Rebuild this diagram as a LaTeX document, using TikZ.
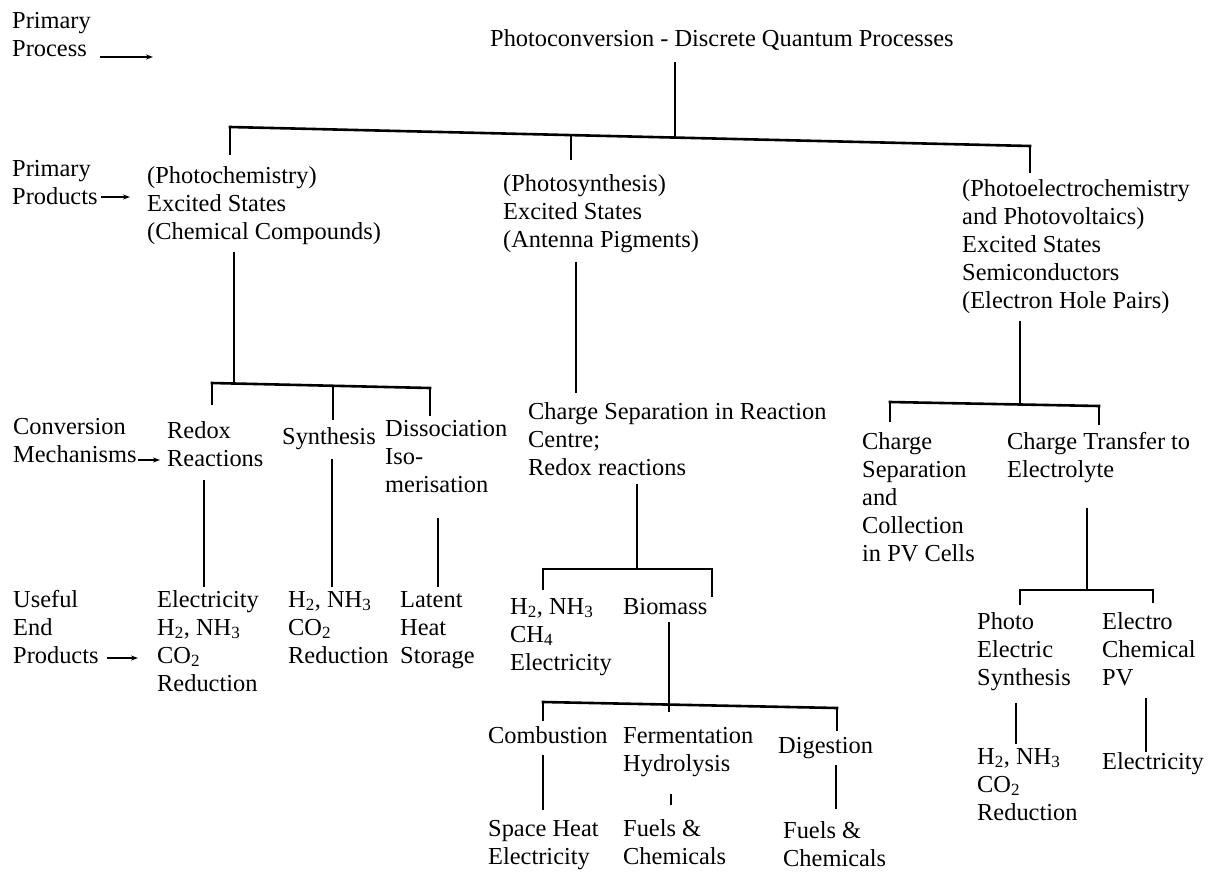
\documentclass[tikz,border=0pt]{standalone}
\usepackage{fontspec}
\setmainfont{Liberation Serif}
\usetikzlibrary{arrows.meta}
\newcommand{\mlines}[1]{\begin{tabular}[t]{@{}l@{}}#1\end{tabular}}
\newcommand{\sbs}[1]{\textsubscript{#1}}
\begin{document}
\begin{tikzpicture}[x=1pt,y=-1pt,
  txt/.style={anchor=base west, inner sep=0pt, font=\fontsize{24.4}{28}\selectfont},
  bar/.style={line width=2.6pt, line cap=rect},
  link/.style={line width=1.4pt},
  tag/.style={line width=1.8pt, -{Stealth[length=7pt,width=5pt]}}]
\useasboundingbox (0,0) rectangle (1212,876);

% ---------- row labels ----------
\node[txt] (lproc) at (12,28) {\mlines{Primary\\Process}};
\node[txt] (lprod) at (12,176) {\mlines{Primary\\Products}};
\node[txt] (lconv) at (13,434) {\mlines{Conversion\\Mechanisms}};
\node[txt] (lend)  at (13,607) {\mlines{Useful\\End\\Products}};
\coordinate (a1s) at (100,57);  \coordinate (a1e) at (153,57);
\coordinate (a2s) at (101,197); \coordinate (a2e) at (130,197);
\coordinate (a3s) at (138,460); \coordinate (a3e) at (160,460);
\coordinate (a4s) at (107,658); \coordinate (a4e) at (138,658);
\draw[tag] (a1s) -- (a1e);
\draw[tag] (a2s) -- (a2e);
\draw[tag] (a3s) -- (a3e);
\draw[tag] (a4s) -- (a4e);

% ---------- nodes ----------
\node[txt] (title) at (490,46) {Photoconversion - Discrete Quantum Processes};
\node[txt] (pchem) at (147,183) {\mlines{(Photochemistry)\\Excited States\\(Chemical Compounds)}};
\node[txt] (psyn)  at (503,191) {\mlines{(Photosynthesis)\\Excited States\\(Antenna Pigments)}};
\node[txt] (pelec) at (962,196) {\mlines{(Photoelectrochemistry\\and Photovoltaics)\\Excited States\\Semiconductors\\(Electron Hole Pairs)}};

\node[txt] (redox) at (167,438) {\mlines{Redox\\Reactions}};
\node[txt] (synth) at (282,444) {Synthesis};
\node[txt] (dissoc) at (385,436) {\mlines{Dissociation\\Iso-\\merisation}};
\node[txt] (csep) at (528,419) {\mlines{Charge Separation in Reaction\\Centre;\\Redox reactions}};
\node[txt] (pvc) at (862,449) {\mlines{Charge\\Separation\\and\\Collection\\in PV Cells}};
\node[txt] (ctr) at (1007,449) {\mlines{Charge Transfer to\\Electrolyte}};

\node[txt] (e1) at (157,607) {\mlines{Electricity\\H\sbs{2}, NH\sbs{3}\\CO\sbs{2}\\Reduction}};
\node[txt] (e2) at (288,607) {\mlines{H\sbs{2}, NH\sbs{3}\\CO\sbs{2}\\Reduction}};
\node[txt] (e3) at (400,607) {\mlines{Latent\\Heat\\Storage}};
\node[txt] (hch) at (510,614) {\mlines{H\sbs{2}, NH\sbs{3}\\CH\sbs{4}\\Electricity}};
\node[txt] (bio) at (623,614) {Biomass};

\node[txt] (comb) at (488,743) {Combustion};
\node[txt] (ferm) at (623,743) {\mlines{Fermentation\\Hydrolysis}};
\node[txt] (dig) at (778,753) {Digestion};
\node[txt] (shx) at (488,836) {\mlines{Space Heat\\Electricity}};
\node[txt] (fc1) at (623,836) {\mlines{Fuels \&\\Chemicals}};
\node[txt] (fc2) at (783,838) {\mlines{Fuels \&\\Chemicals}};

\node[txt] (photo) at (977,629) {\mlines{Photo\\Electric\\Synthesis}};
\node[txt] (echem) at (1102,629) {\mlines{Electro\\Chemical\\PV}};
\node[txt] (hr) at (977,764) {\mlines{H\sbs{2}, NH\sbs{3}\\CO\sbs{2}\\Reduction}};
\node[txt] (er) at (1102,769) {Electricity};

% ---------- junction points ----------
\coordinate (t1) at (230,127);  \coordinate (t2) at (1030,146);
\coordinate (tj) at (675,137.5); \coordinate (tm) at (571,135);
\coordinate (c1) at (212,383);  \coordinate (c2) at (430,388);
\coordinate (cj) at (234,383.5); \coordinate (cm) at (333,385.5);
\coordinate (s1) at (543,569);  \coordinate (s2) at (712,569);
\coordinate (sj) at (637,569);
\coordinate (b1) at (543,702);  \coordinate (b2) at (837,708);
\coordinate (bj) at (669,705);
\coordinate (r1) at (890,402);  \coordinate (r2) at (1099,406);
\coordinate (rj) at (1020,403.5);
\coordinate (q1) at (1020,590); \coordinate (q2) at (1153,590);
\coordinate (qj) at (1087,590);

% ---------- top level ----------
\draw[link, shorten <=12pt] (title.south -| tj) -- (tj);
\draw[bar] (t1) -- (t2);
\draw[link, shorten >=8pt] (t1) -- (t1 |- pchem.north);
\draw[link, shorten >=11pt] (tm) -- (tm |- psyn.north);
\draw[link, shorten >=3pt] (t2) -- (t2 |- pelec.north);

% ---------- photochemistry ----------
\draw[link, shorten <=4pt] (pchem.south -| cj) -- (cj);
\draw[bar] (c1) -- (c2);
\draw[link, shorten >=13pt] (c1) -- (c1 |- redox.north);
\draw[link, shorten >=7pt] (cm) -- (cm |- synth.north);
\draw[link] (c2) -- (c2 |- dissoc.north);
\draw[link, shorten <=5pt] (redox.south -| 204,0) -- (e1.north -| 204,0);
\draw[link, shorten <=10pt] (synth.south -| 332,0) -- (e2.north -| 332,0);
\draw[link, shorten <=17pt] (dissoc.south -| 438,0) -- (e3.north -| 438,0);

% ---------- photosynthesis ----------
\draw[link, shorten <=6pt, shorten >=6pt] (psyn.south -| 576,0) -- (csep.north -| 576,0);
\draw[link] (csep.south -| sj) -- (sj);
\draw[bar] (s1) -- (s2);
\draw[link, shorten >=4pt] (s1) -- (s1 |- hch.north);
\draw[link, shorten >=1pt] (s2) -- (s2 |- bio.north);
\draw[link, shorten <=8pt] (bio.south -| bj) -- (bj);
\draw[bar] (b1) -- (b2);
\draw[link, shorten >=5pt] (b1) -- (b1 |- comb.north);
\draw[link, shorten >=11pt] (bj) -- (bj |- ferm.north);
\draw[link, shorten >=6pt] (b2) -- (b2 |- dig.north);
\draw[link, shorten <=12pt, shorten >=6pt] (comb.south -| 543,0) -- (shx.north -| 543,0);
\draw[link, shorten <=14pt, shorten >=11pt] (ferm.south -| 671,0) -- (fc1.north -| 671,0);
\draw[link, shorten <=7pt, shorten >=9pt] (dig.south -| 836,0) -- (fc2.north -| 836,0);

% ---------- photoelectrochemistry ----------
\draw[link, shorten <=4pt] (pelec.south -| rj) -- (rj);
\draw[bar] (r1) -- (r2);
\draw[link, shorten >=7pt] (r1) -- (r1 |- pvc.north);
\draw[link, shorten >=4pt] (r2) -- (r2 |- ctr.north);
\draw[link, shorten <=22pt] (ctr.south -| qj) -- (qj);
\draw[bar] (q1) -- (q2);
\draw[link, shorten >=4pt] (q1) -- (q1 |- photo.north);
\draw[link, shorten >=6pt] (q2) -- (q2 |- echem.north);
\draw[link, shorten <=9pt] (photo.south -| 1016,0) -- (hr.north -| 1016,0);
\draw[link, shorten <=4pt] (echem.south -| 1146,0) -- (er.north -| 1146,0);
\end{tikzpicture}
\end{document}
